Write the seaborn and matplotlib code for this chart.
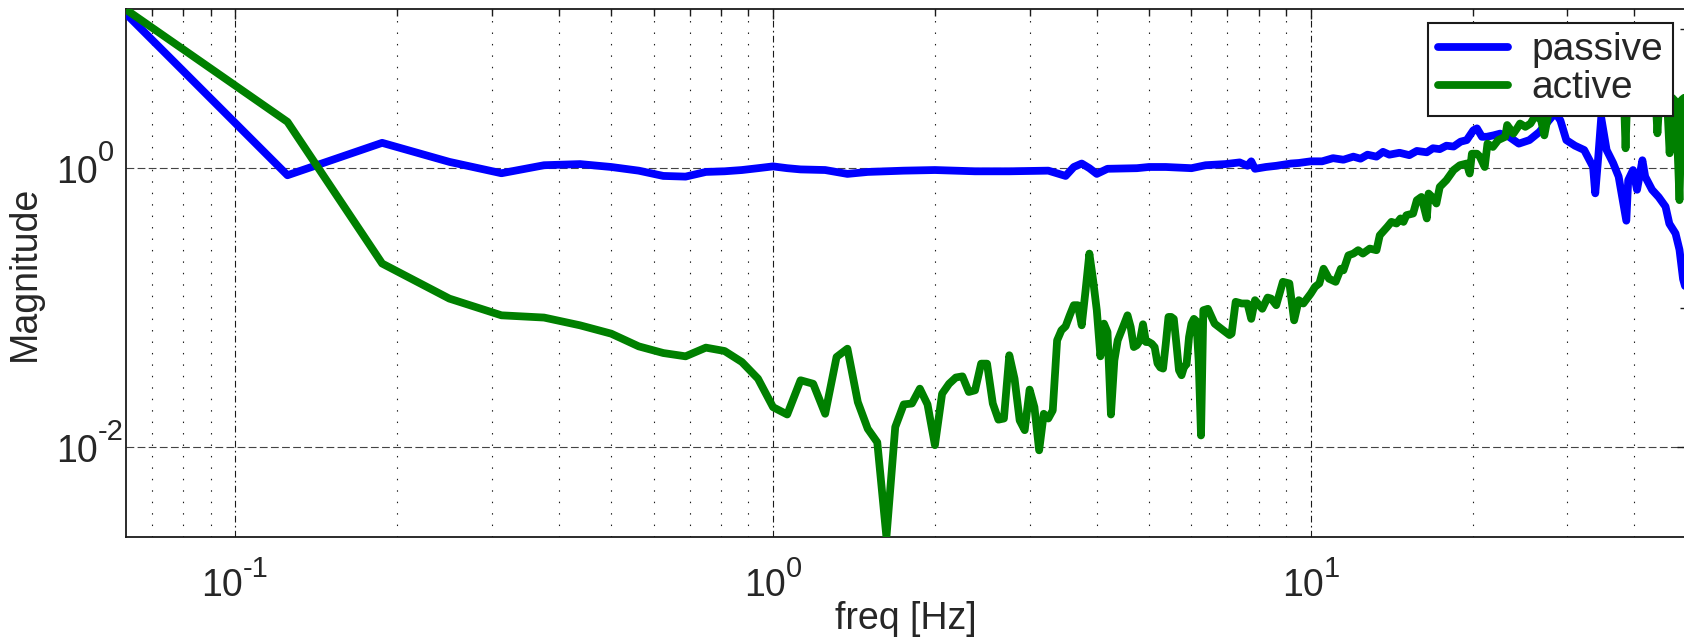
import numpy as np
import pandas as pd
import matplotlib
matplotlib.use("Agg")
import matplotlib.pyplot as plt
import matplotlib.ticker as mticker
import seaborn as sns

sns.set_theme(style="white")
plt.rcParams['font.family'] = ['Liberation Sans', 'DejaVu Sans']

# passive transfer magnitude
passive_freq = [0.0625, 0.125, 0.1875, 0.25, 0.3125, 0.375, 0.4375, 0.5, 0.5625, 0.625,
                0.6875, 0.75, 0.8125, 0.875, 0.9375, 1.0, 1.0625, 1.125, 1.25, 1.375,
                1.5, 1.75, 2.0, 2.375, 2.75, 3.25, 3.5, 3.625, 3.75, 3.875,
                4.0, 4.1875, 4.75, 5.0, 5.375, 6.0, 6.375, 6.9375, 7.375, 7.625,
                7.75, 7.875, 8.25, 8.625, 9.1875, 9.5, 10.0, 10.5, 11.0, 11.5,
                12.0, 12.375, 12.75, 13.25, 13.625, 14.0, 14.625, 15.25, 15.75, 16.4375,
                16.875, 17.375, 17.875, 18.4375, 19.0, 19.5, 20.0625, 20.375, 20.8125,
                21.25, 21.875, 22.5, 23.375, 24.375, 25.5, 26.625, 27.75, 28.5, 29.125,
                29.875, 31.0, 32.25, 33.5, 33.8125, 34.25, 34.6875, 35.5, 36.5, 37.375,
                38.625, 38.9375, 39.75, 40.4375, 41.375, 41.875, 43.125, 44.375, 45.6875, 46.4375,
                47.6875, 48.5, 49.25, 50.0]
passive_mag = [12.9, 0.89, 1.52, 1.11, 0.92, 1.05, 1.07, 1.02, 0.96, 0.88,
               0.87, 0.94, 0.95, 0.97, 1.0, 1.03, 1.0, 0.98, 0.97, 0.91,
               0.94, 0.96, 0.97, 0.95, 0.95, 0.96, 0.88, 1.02, 1.08, 1.0,
               0.91, 0.99, 1.0, 1.02, 1.02, 1.0, 1.05, 1.07, 1.1, 1.04,
               1.12, 0.99, 1.02, 1.04, 1.08, 1.09, 1.12, 1.12, 1.18, 1.15,
               1.21, 1.17, 1.25, 1.21, 1.31, 1.25, 1.29, 1.24, 1.33, 1.30,
               1.39, 1.37, 1.45, 1.43, 1.55, 1.59, 1.87, 1.93, 1.68,
               1.68, 1.72, 1.77, 1.68, 1.5, 1.59, 1.82, 2.21, 2.5, 2.2,
               1.59, 1.45, 1.35, 1.02, 0.66, 1.2, 2.3, 1.35, 1.09, 0.87,
               0.42, 0.82, 0.97, 0.7, 1.14, 0.87, 0.7, 0.62, 0.53, 0.40,
               0.34, 0.26, 0.16, 0.13]

# active transfer magnitude
active_freq = [0.0625, 0.125, 0.1875, 0.25, 0.3125, 0.375, 0.4375, 0.5, 0.5625, 0.625,
               0.6875, 0.75, 0.8125, 0.875, 0.9375, 1.0, 1.0625, 1.125, 1.1875, 1.25,
               1.3125, 1.375, 1.4375, 1.5, 1.5625, 1.625, 1.6875, 1.75, 1.8125, 1.875,
               1.9375, 2.0, 2.0625, 2.125, 2.1875, 2.25, 2.3125, 2.375, 2.4375, 2.5,
               2.5625, 2.625, 2.6875, 2.75, 2.8125, 2.875, 2.9375, 3.0, 3.0625, 3.125,
               3.1875, 3.25, 3.3125, 3.375, 3.4375, 3.5, 3.5625, 3.625, 3.6875, 3.75,
               3.8125, 3.875, 3.9375, 4.0, 4.0625, 4.125, 4.1875, 4.25, 4.3125, 4.375,
               4.4375, 4.5, 4.5625, 4.625, 4.6875, 4.75, 4.8125, 4.875, 4.9375, 5.0,
               5.0625, 5.125, 5.1875, 5.25, 5.3125, 5.375, 5.4375, 5.5, 5.5625, 5.625,
               5.6875, 5.75, 5.8125, 5.875, 5.9375, 6.0, 6.0625, 6.125, 6.1875, 6.25,
               6.3125, 6.4375, 6.625, 6.75, 6.875, 7.0625, 7.125, 7.25, 7.4375, 7.625,
               7.75, 7.875, 8.125, 8.3125, 8.4375, 8.625, 8.75, 8.875, 9.125, 9.3125,
               9.5, 9.6875, 10.0, 10.1875, 10.375, 10.5625, 10.8125, 11.125, 11.375, 11.5,
               11.75, 12.0, 12.25, 12.5, 12.875, 13.25, 13.4375, 13.875, 14.125, 14.4375,
               14.6875, 14.875, 15.0625, 15.5, 15.75, 16.0625, 16.4375, 16.5625, 16.8125, 17.125,
               17.375, 17.875, 18.4375, 18.9375, 19.5, 19.75, 19.9375, 20.375, 20.625, 21.0625,
               21.3125, 21.8125, 22.3125, 23.0, 23.1875, 23.8125, 24.1875, 24.5, 25.0625, 25.625,
               26.1875, 26.8125, 27.1875, 27.75, 28.5, 29.5, 30.5, 31.5, 32.5, 33.5,
               34.5, 35.5, 36.5, 37.5, 38.25, 38.5, 38.75, 39.75, 40.75, 41.75,
               42.75, 43.75, 44.125, 44.5, 45.25, 46.0, 46.5, 47.0, 47.75, 48.5,
               49.0, 49.5, 50.0]
active_mag = [13.8, 2.15, 0.207, 0.116, 0.088, 0.0848, 0.0746, 0.065, 0.0527, 0.0472,
              0.0447, 0.0516, 0.0488, 0.0407, 0.0309, 0.0193, 0.0171, 0.0301, 0.0284, 0.0173,
              0.0442, 0.0507, 0.021, 0.0135, 0.0108, 0.00226, 0.0139, 0.0202, 0.0205, 0.0262,
              0.0202, 0.0103, 0.0241, 0.0284, 0.0315, 0.0321, 0.0248, 0.0255, 0.0396, 0.0396,
              0.0205, 0.0157, 0.016, 0.0455, 0.0309, 0.0155, 0.0132, 0.0258, 0.0193, 0.00946,
              0.0173, 0.016, 0.0183, 0.0582, 0.0687, 0.0734, 0.088, 0.104, 0.104, 0.0746,
              0.133, 0.244, 0.157, 0.0957, 0.0447, 0.0767, 0.0668, 0.0171, 0.0418, 0.0582,
              0.0668, 0.0767, 0.088, 0.0725, 0.0521, 0.0537, 0.0582, 0.0759, 0.0566, 0.0566,
              0.055, 0.052, 0.0398, 0.0372, 0.0365, 0.055, 0.0857, 0.0857, 0.083, 0.055,
              0.0355, 0.0327, 0.0375, 0.0392, 0.0615, 0.0767, 0.083, 0.08, 0.0418, 0.0121,
              0.0957, 0.098, 0.0767, 0.0725, 0.0687, 0.0635, 0.065, 0.11, 0.107, 0.107,
              0.083, 0.113, 0.098, 0.118, 0.116, 0.104, 0.126, 0.153, 0.149, 0.081,
              0.113, 0.107, 0.126, 0.141, 0.149, 0.19, 0.161, 0.153, 0.19, 0.185,
              0.237, 0.244, 0.258, 0.244, 0.265, 0.258, 0.33, 0.379, 0.412, 0.401,
              0.436, 0.412, 0.46, 0.473, 0.589, 0.622, 0.436, 0.658, 0.622, 0.558,
              0.734, 0.82, 0.97, 1.05, 1.08, 0.916, 1.27, 1.27, 1.21, 1.02,
              1.5, 1.42, 1.59, 1.68, 2.04, 1.77, 1.93, 2.09, 1.98, 2.09,
              2.4, 2.21, 1.72, 2.6, 3.0, 2.8, 3.2, 2.9, 3.3, 3.0,
              3.4, 3.1, 3.3, 2.9, 3.1, 1.39, 3.0, 3.4, 3.0, 3.3,
              3.1, 3.4, 1.78, 3.1, 3.3, 3.0, 1.28, 3.2, 3.0, 0.59,
              3.1, 3.2, 3.0]

# labelled decades
xtick_exp = [-1, 0, 1]
ytick_exp = [-2, 0]

passive = pd.DataFrame({'freq': passive_freq, 'mag': passive_mag})
active = pd.DataFrame({'freq': active_freq, 'mag': active_mag})

W, H = 1684, 641
fig = plt.figure(figsize=(W / 100, H / 100), dpi=100)
# axes box in pixels: left 125.6, right 1686.6 (just past the image edge), top 9.3, bottom 537
ax = fig.add_axes([125.6 / W, (H - 537) / H, (1686.6 - 125.6) / W, (537 - 9.3) / H])

sns.lineplot(data=passive, x='freq', y='mag', ax=ax, color=(0, 0, 1), linewidth=5.6,
             sort=False, estimator=None, label='passive', zorder=3)
sns.lineplot(data=active, x='freq', y='mag', ax=ax, color=(0, 0.5, 0), linewidth=5.6,
             sort=False, estimator=None, label='active', zorder=3)

ax.set_xscale('log')
ax.set_yscale('log')
ax.set_xlim(0.0625, 50)
ax.set_ylim(min(active_mag), max(active_mag))

ax.xaxis.set_major_locator(mticker.LogLocator(base=10, numticks=10))
ax.xaxis.set_minor_locator(mticker.LogLocator(base=10, subs=np.arange(2, 10), numticks=20))
ax.yaxis.set_major_locator(mticker.FixedLocator([10.0 ** e for e in ytick_exp]))
ax.yaxis.set_minor_locator(mticker.FixedLocator([1e-1, 1e1]))

ax.xaxis.grid(True, which='major', color='k', linewidth=0.8, linestyle=(0, (6, 3, 1.5, 3)))
ax.xaxis.grid(True, which='minor', color='k', linewidth=0.8, linestyle=(0, (1.3, 9)))
ax.yaxis.grid(True, which='major', color='#444444', linewidth=0.8, linestyle=(0, (7, 3)))
ax.set_axisbelow(True)

ax.tick_params(which='both', direction='in', top=True, right=True, colors='k', width=1.0,
               labelbottom=False, labelleft=False)
ax.tick_params(which='major', length=7)
ax.tick_params(which='minor', length=5)
for s in ax.spines.values():
    s.set_color('k')
    s.set_linewidth(1.3)

# MATLAB-style "10" + large superscript exponent tick labels
base_fs, exp_fs = 27, 21
w10 = 1.112 * base_fs * 100 / 72
for e in xtick_exp:
    s = str(e)
    we = sum(0.333 if c == '-' else 0.556 for c in s) * exp_fs * 100 / 72
    left = -(w10 + we) / 2
    ax.annotate('10', xy=(10.0 ** e, 0), xycoords=('data', 'axes fraction'),
                xytext=(left, -59), textcoords='offset pixels', ha='left', va='baseline',
                fontsize=base_fs, annotation_clip=False)
    ax.annotate(s, xy=(10.0 ** e, 0), xycoords=('data', 'axes fraction'),
                xytext=(left + w10, -40), textcoords='offset pixels', ha='left',
                va='baseline', fontsize=exp_fs, annotation_clip=False)
for e in ytick_exp:
    ax.annotate('10', xy=(0, 10.0 ** e), xycoords=('axes fraction', 'data'),
                xytext=(-28, -15), textcoords='offset pixels', ha='right', va='baseline',
                fontsize=base_fs, annotation_clip=False)
    ax.annotate(str(e), xy=(0, 10.0 ** e), xycoords=('axes fraction', 'data'),
                xytext=(-28, 7), textcoords='offset pixels', ha='left', va='baseline',
                fontsize=exp_fs, annotation_clip=False)

ax.set_xlabel('freq [Hz]', fontsize=27, va='baseline')
ax.xaxis.set_label_coords(0.5, (537 - 629) / 527.7)
ax.set_ylabel('Magnitude', fontsize=27)
ax.yaxis.set_label_coords((43 - 125.6) / 1561, 0.5)

leg = ax.legend(loc='upper right', bbox_to_anchor=(1673 / W, 1 - 22.7 / H),
                bbox_transform=fig.transFigure, borderaxespad=0, fontsize=28,
                frameon=True, fancybox=False, framealpha=1, edgecolor='k',
                handlelength=1.8, handletextpad=0.6, labelspacing=0.05,
                borderpad=0.25)
leg.get_frame().set_linewidth(1.5)
leg.set_zorder(5)

fig.savefig('out.png', dpi=100)
